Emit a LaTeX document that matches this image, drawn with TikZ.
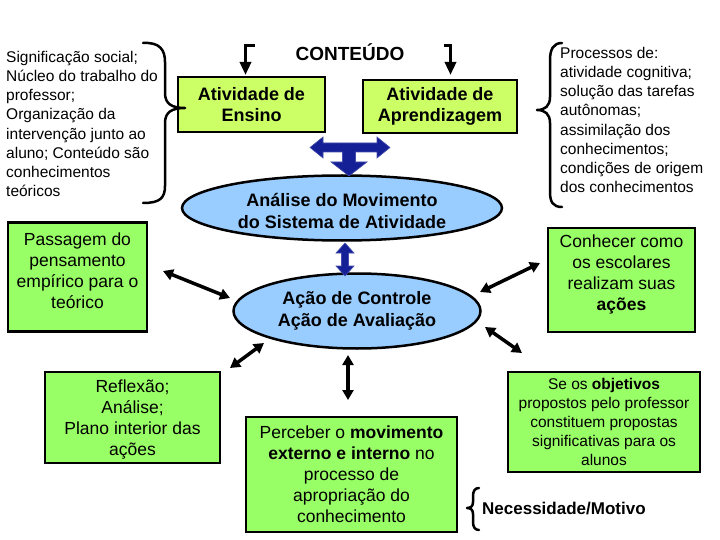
\documentclass[tikz,border=0pt]{standalone}
\usepackage{fontspec}
\setmainfont{Liberation Sans}
\usetikzlibrary{shapes.geometric,arrows.meta}
\definecolor{boxtop}{RGB}{204,255,102}
\definecolor{boxlow}{RGB}{153,255,102}
\definecolor{ellfill}{RGB}{153,204,255}
\definecolor{darkblue}{RGB}{22,32,150}
\newcommand{\shifttext}[2]{\raisebox{#1}[\height][\depth]{\begin{tabular}{@{}c@{}}#2\end{tabular}}}
\tikzset{
  boxa/.style={draw=black, line width=2.5pt, fill=boxtop, align=center, inner sep=0pt,
    font=\bfseries\fontsize{18}{21}\selectfont},
  boxb/.style={draw=black, line width=2.5pt, fill=boxlow, align=center, inner sep=0pt,
    font=\fontsize{17.5}{21}\selectfont},
  ell/.style={ellipse, draw=black, line width=2.5pt, fill=ellfill, align=center, inner sep=0pt,
    font=\bfseries\fontsize{18}{22}\selectfont},
  dbl/.style={line width=3.5pt, {Triangle[length=10pt,width=11pt]}-{Triangle[length=10pt,width=11pt]}},
  bent/.style={line width=3.5pt, -{Triangle[length=13pt,width=11pt]}},
  bracepath/.style={line width=2.5pt, line cap=round, line join=round},
  plaintext/.style={align=left, inner sep=0pt, font=\fontsize{15.5}{19.2}\selectfont},
  bluearrow/.style={fill=darkblue, draw=darkblue!80!white, line width=0.6pt}
}
\begin{document}
\begin{tikzpicture}[x=1pt,y=-1pt]
\useasboundingbox[fill=white] (0,0) rectangle (720,540);

% free texts
\node[plaintext, anchor=west] (sig) at (6,124) {Significação social;\\Núcleo do trabalho do\\professor;\\Organização da\\intervenção junto ao\\aluno; Conteúdo são\\conhecimentos\\teóricos};
\node[plaintext, anchor=west] (proc) at (560,120) {Processos de:\\atividade cognitiva;\\solução das tarefas\\autônomas;\\assimilação dos\\conhecimentos;\\condições de origem\\dos conhecimentos};
\node[inner sep=0pt, font=\bfseries\fontsize{19}{22}\selectfont] (cont) at (350,52) {CONTEÚDO};
\node[inner sep=0pt, anchor=west, font=\bfseries\fontsize{17}{20}\selectfont] (nec) at (482,509) {Necessidade/Motivo};

% boxes
\node[boxa, minimum width=147pt, minimum height=55pt] (ens) at (251.5,104.5) {Atividade de\\Ensino};
\node[boxa, minimum width=154pt, minimum height=53pt] (apr) at (440,106.5) {Atividade de\\Aprendizagem};
\node[boxb, minimum width=139pt, minimum height=109pt] (pas) at (77.5,277) {\shifttext{4.5pt}{Passagem do\\pensamento\\empírico para o\\teórico}};
\node[boxb, minimum width=175pt, minimum height=91pt] (ref) at (132.5,417.5) {\shifttext{-2pt}{Reflexão;\\Análise;\\Plano interior das\\ações}};
\node[boxb, minimum width=211pt, minimum height=115pt] (per) at (351.5,474.5) {Perceber o \textbf{movimento}\\\textbf{externo e interno} no\\processo de\\apropriação do\\conhecimento};
\node[boxb, minimum width=147pt, minimum height=104pt] (con) at (621.5,280) {\shifttext{5pt}{Conhecer como\\os escolares\\realizam suas\\\textbf{ações}}};
\node[boxb, minimum width=192pt, minimum height=100pt, font=\fontsize{15.5}{19}\selectfont] (obj) at (604,422) {Se os \textbf{objetivos}\\propostos pelo professor\\constituem propostas\\significativas para os\\alunos};

% ellipses
\node[ell, minimum width=320pt, minimum height=65pt] (e1) at (342,208) {\shifttext{-5pt}{Análise do Movimento\\do Sistema de Atividade}};
\node[ell, minimum width=247pt, minimum height=75pt] (e2) at (357,311) {Ação de Controle\\Ação de Avaliação};

% braces
\draw[bracepath] (143,43) .. controls (160,42) and (165,50) .. (165,62) -- (165,93)
  .. controls (165,104) and (172,108) .. (185,108)
  .. controls (172,108) and (165,112) .. (165,123) -- (165,186)
  .. controls (165,198) and (160,203) .. (143,203);
\draw[bracepath] (562,43) .. controls (553,43) and (550,50) .. (550,60) -- (550,97)
  .. controls (550,106) and (545,110) .. (537,110)
  .. controls (545,110) and (550,114) .. (550,123) -- (550,192)
  .. controls (550,202) and (553,207) .. (562,207);
\draw[bracepath] (479,488) .. controls (475,488) and (473,491) .. (473,496) -- (473,502)
  .. controls (473,506) and (471,508) .. (467,508)
  .. controls (471,508) and (473,510) .. (473,514) -- (473,522)
  .. controls (473,527) and (475,530) .. (479,530);

% bent arrows near CONTEUDO
\coordinate (bl0) at (255,45.5);
\coordinate (bl1) at (245.5,75);
\coordinate (br0) at (444,45.5);
\coordinate (br1) at (450.5,75);
\draw[bent] (bl0) -| (bl1);
\draw[bent] (br0) -| (br1);

% blue T arrow
\fill[bluearrow] (310,147.5) -- (323,137) -- (323,143) -- (377,143) -- (377,137) -- (390,147.5)
  -- (377,158) -- (377,152) -- (355.5,152) -- (355.5,162) -- (367,162) -- (349,176)
  -- (331,162) -- (342.5,162) -- (342.5,152) -- (323,152) -- (323,158) -- cycle;
% blue vertical double arrow
\fill[bluearrow] (345,243) -- (354,253) -- (348.5,253) -- (348.5,266) -- (354,266) -- (345,276)
  -- (336,266) -- (341.5,266) -- (341.5,253) -- (336,253) -- cycle;

% black double arrows
\coordinate (a1) at (163,271); \coordinate (a2) at (230,298);
\coordinate (b1) at (230,368); \coordinate (b2) at (264,343);
\coordinate (c1) at (348,355); \coordinate (c2) at (348,400);
\coordinate (d1) at (480,292); \coordinate (d2) at (540,263);
\coordinate (f1) at (485,327); \coordinate (f2) at (522,353);
\draw[dbl] (a1) -- (a2);
\draw[dbl] (b1) -- (b2);
\draw[dbl] (c1) -- (c2);
\draw[dbl] (d1) -- (d2);
\draw[dbl] (f1) -- (f2);
\end{tikzpicture}
\end{document}
